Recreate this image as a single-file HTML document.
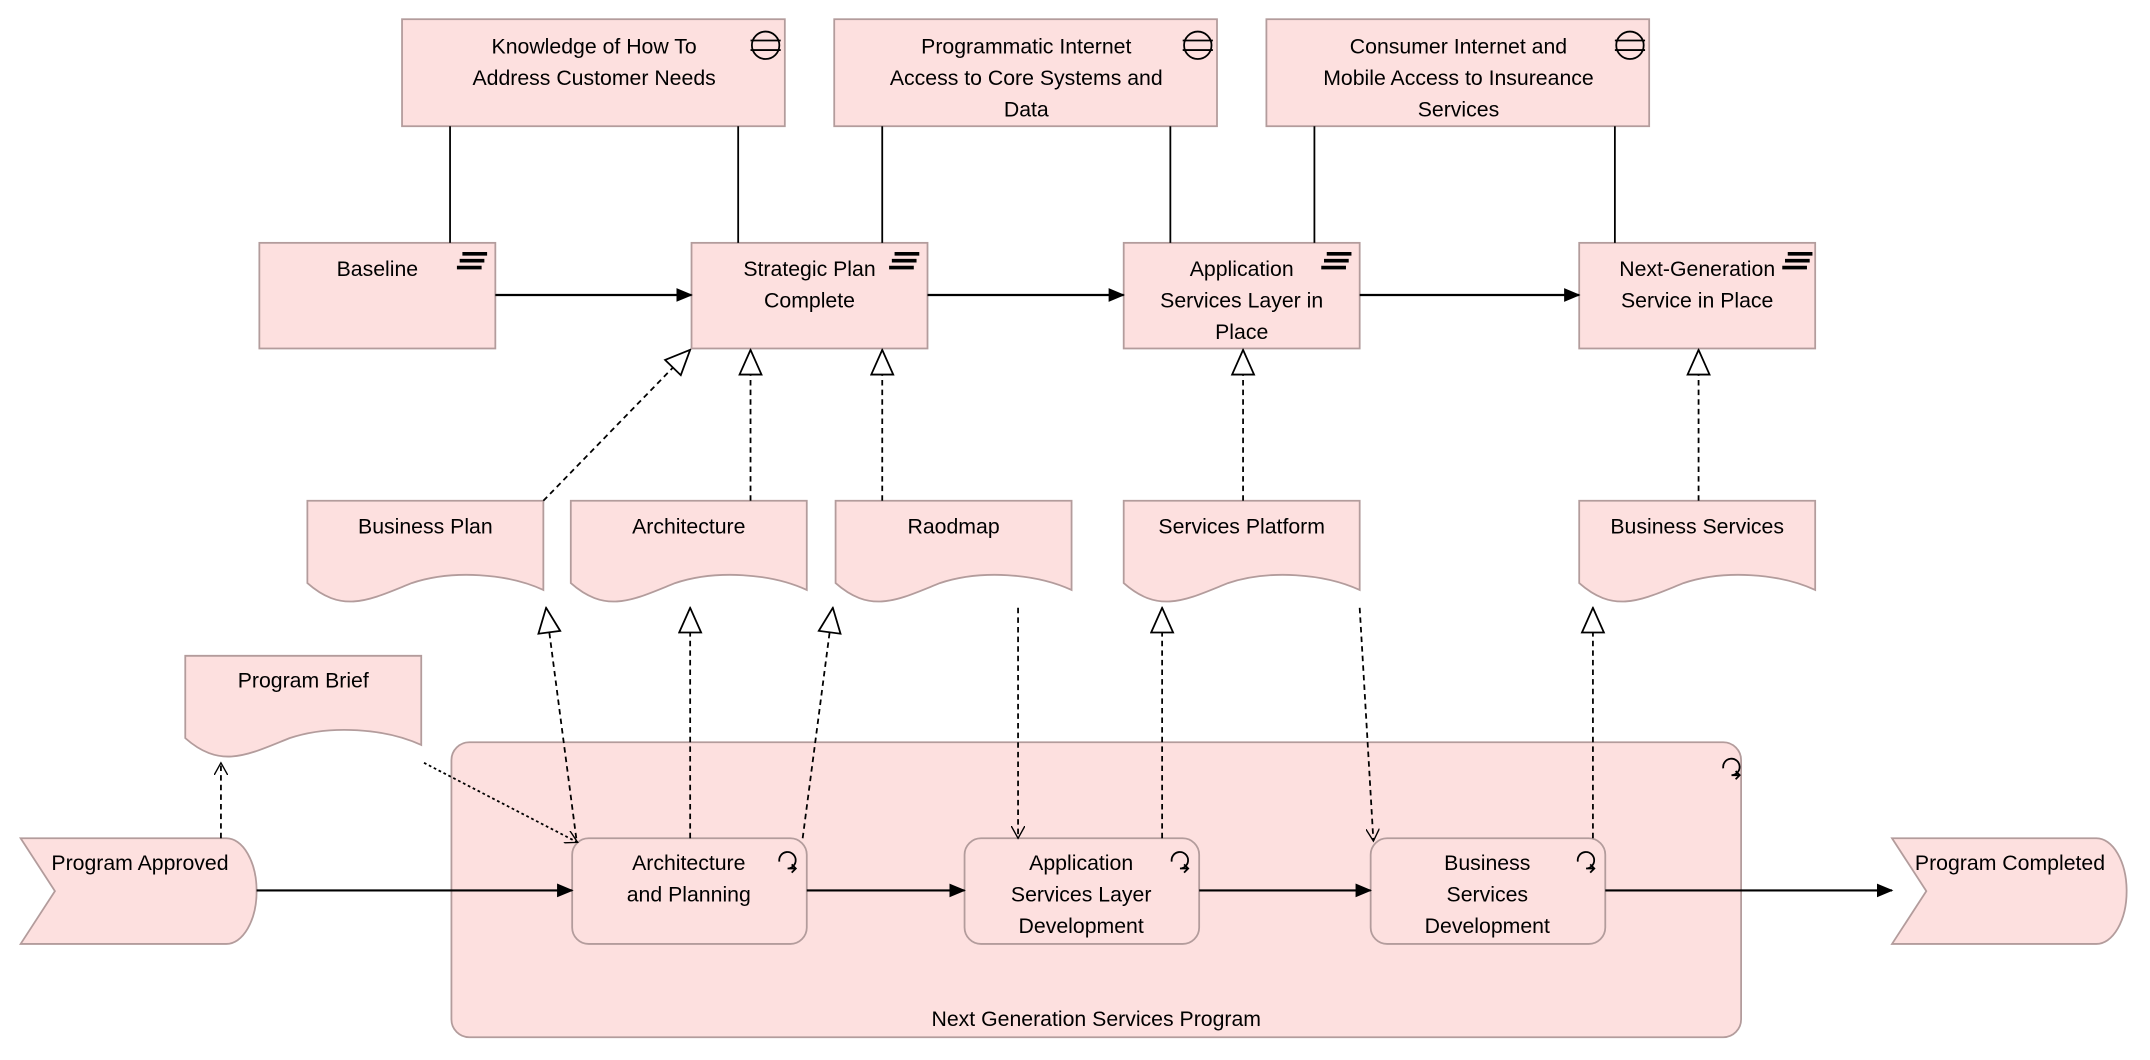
<!DOCTYPE html>
<html><head><meta charset="utf-8"><style>html,body{margin:0;padding:0;background:#fff}svg{display:block}</style></head><body>
<svg width="2150" height="1060" viewBox="0 0 1567 772.6" xmlns="http://www.w3.org/2000/svg" font-family="Liberation Sans, sans-serif" font-size="15.5">
<defs>
<marker id="fa" markerWidth="12" markerHeight="10" refX="11" refY="5" orient="auto" markerUnits="userSpaceOnUse"><path d="M0,0 L12,5 L0,10 Z" fill="#000"/></marker>
<marker id="tri" markerWidth="20" markerHeight="18" refX="19" refY="9" orient="auto" markerUnits="userSpaceOnUse"><path d="M1,1 L19,9 L1,17 Z" fill="#fff" stroke="#000" stroke-width="1.3"/></marker>
<marker id="op" markerWidth="10" markerHeight="10" refX="9" refY="5" orient="auto" markerUnits="userSpaceOnUse"><path d="M0,0 L9,5 L0,10" fill="none" stroke="#000" stroke-width="1"/></marker>
</defs>
<g fill="#fde0df" stroke="#b39c9c" stroke-width="1.3">
<rect x="293" y="14" width="279" height="78"/>
<rect x="608" y="14" width="279" height="78"/>
<rect x="923" y="14" width="279" height="78"/>
<rect x="189" y="177" width="172" height="77"/>
<rect x="504" y="177" width="172" height="77"/>
<rect x="819" y="177" width="172" height="77"/>
<rect x="1151" y="177" width="172" height="77"/>
<rect x="329" y="541" width="940" height="215" rx="13"/>
<rect x="417" y="611" width="171" height="77" rx="12"/>
<rect x="703" y="611" width="171" height="77" rx="12"/>
<rect x="999" y="611" width="171" height="77" rx="12"/>
<path d="M15,611 H165 A22,38.5 0 0 1 165,688 H15 L40,649.5 Z"/>
<path d="M1379,611 H1528 A22,38.5 0 0 1 1528,688 H1379 L1404,649.5 Z"/>
<path d="M224,365 H396 V430 C370,418 330,415 300,425 C270,437 250,448 224,425 Z"/>
<path d="M416,365 H588 V430 C562,418 522,415 492,425 C462,437 442,448 416,425 Z"/>
<path d="M609,365 H781 V430 C755,418 715,415 685,425 C655,437 635,448 609,425 Z"/>
<path d="M819,365 H991 V430 C965,418 925,415 895,425 C865,437 845,448 819,425 Z"/>
<path d="M1151,365 H1323 V430 C1297,418 1257,415 1227,425 C1197,437 1177,448 1151,425 Z"/>
<path d="M135,478 H307 V543 C281,531 241,528 211,538 C181,550 161,561 135,538 Z"/>
</g>
<g stroke="#000" stroke-width="1.3" fill="none">
<line x1="328" y1="92" x2="328" y2="177"/><line x1="538" y1="92" x2="538" y2="177"/>
<line x1="643" y1="92" x2="643" y2="177"/><line x1="853" y1="92" x2="853" y2="177"/>
<line x1="958" y1="92" x2="958" y2="177"/><line x1="1177" y1="92" x2="1177" y2="177"/>
<g stroke-width="1.6">
<line x1="361" y1="215" x2="504" y2="215" marker-end="url(#fa)"/>
<line x1="676" y1="215" x2="819" y2="215" marker-end="url(#fa)"/>
<line x1="991" y1="215" x2="1151" y2="215" marker-end="url(#fa)"/>
<line x1="187" y1="649" x2="417" y2="649" marker-end="url(#fa)"/>
<line x1="588" y1="649" x2="703" y2="649" marker-end="url(#fa)"/>
<line x1="874" y1="649" x2="999" y2="649" marker-end="url(#fa)"/>
<line x1="1170" y1="649" x2="1379" y2="649" marker-end="url(#fa)"/>
</g>
<g stroke-dasharray="4,3">
<line x1="396" y1="365" x2="503" y2="255" marker-end="url(#tri)"/>
<line x1="547" y1="365" x2="547" y2="255" marker-end="url(#tri)"/>
<line x1="643" y1="365" x2="643" y2="255" marker-end="url(#tri)"/>
<line x1="906" y1="365" x2="906" y2="255" marker-end="url(#tri)"/>
<line x1="1238" y1="365" x2="1238" y2="255" marker-end="url(#tri)"/>
<line x1="420" y1="611" x2="398" y2="443" marker-end="url(#tri)"/>
<line x1="503" y1="611" x2="503" y2="443" marker-end="url(#tri)"/>
<line x1="585" y1="611" x2="607" y2="443" marker-end="url(#tri)"/>
<line x1="847" y1="611" x2="847" y2="443" marker-end="url(#tri)"/>
<line x1="1161" y1="611" x2="1161" y2="443" marker-end="url(#tri)"/>
<line x1="742" y1="443" x2="742" y2="611" marker-end="url(#op)"/>
<line x1="991" y1="443" x2="1001" y2="613" marker-end="url(#op)"/>
<line x1="161" y1="611" x2="161" y2="556" marker-end="url(#op)"/>
</g>
<line x1="309" y1="556" x2="421" y2="614" stroke-dasharray="2,2" marker-end="url(#op)"/>
<!-- icons -->
<g id="ic1"><circle cx="558" cy="33" r="10"/><line x1="547" y1="29.5" x2="569" y2="29.5"/><line x1="547" y1="36.5" x2="569" y2="36.5"/></g>
<circle cx="873" cy="33" r="10"/><line x1="862" y1="29.5" x2="884" y2="29.5"/><line x1="862" y1="36.5" x2="884" y2="36.5"/>
<circle cx="1188" cy="33" r="10"/><line x1="1177" y1="29.5" x2="1199" y2="29.5"/><line x1="1177" y1="36.5" x2="1199" y2="36.5"/>
<path d="M1256,560 a6,6 0 1 1 6,5 h6 m-3,-3 l3,3 l-3,3"/>
<path d="M568,628 a6,6 0 1 1 6,5 h6 m-3,-3 l3,3 l-3,3"/>
<path d="M854,628 a6,6 0 1 1 6,5 h6 m-3,-3 l3,3 l-3,3"/>
<path d="M1150,628 a6,6 0 1 1 6,5 h6 m-3,-3 l3,3 l-3,3"/>
</g>
<g stroke="#000" stroke-width="2.6">
<path d="M337,185 h18 M335,190 h18 M333,195 h18"/>
<path d="M652,185 h18 M650,190 h18 M648,195 h18"/>
<path d="M967,185 h18 M965,190 h18 M963,195 h18"/>
<path d="M1303,185 h18 M1301,190 h18 M1299,195 h18"/>
</g>
<g text-anchor="middle" fill="#000">
<text x="433" y="39">Knowledge of How To</text><text x="433" y="62">Address Customer Needs</text>
<text x="748" y="39">Programmatic Internet</text><text x="748" y="62">Access to Core Systems and</text><text x="748" y="85">Data</text>
<text x="1063" y="39">Consumer Internet and</text><text x="1063" y="62">Mobile Access to Insureance</text><text x="1063" y="85">Services</text>
<text x="275" y="201">Baseline</text>
<text x="590" y="201">Strategic Plan</text><text x="590" y="224">Complete</text>
<text x="905" y="201">Application</text><text x="905" y="224">Services Layer in</text><text x="905" y="247">Place</text>
<text x="1237" y="201">Next-Generation</text><text x="1237" y="224">Service in Place</text>
<text x="310" y="389">Business Plan</text>
<text x="502" y="389">Architecture</text>
<text x="695" y="389">Raodmap</text>
<text x="905" y="389">Services Platform</text>
<text x="1237" y="389">Business Services</text>
<text x="221" y="501">Program Brief</text>
<text x="102" y="634">Program Approved</text>
<text x="1465" y="634">Program Completed</text>
<text x="502" y="634">Architecture</text><text x="502" y="657">and Planning</text>
<text x="788" y="634">Application</text><text x="788" y="657">Services Layer</text><text x="788" y="680">Development</text>
<text x="1084" y="634">Business</text><text x="1084" y="657">Services</text><text x="1084" y="680">Development</text>
<text x="799" y="748">Next Generation Services Program</text>
</g>
</svg>
</body></html>
